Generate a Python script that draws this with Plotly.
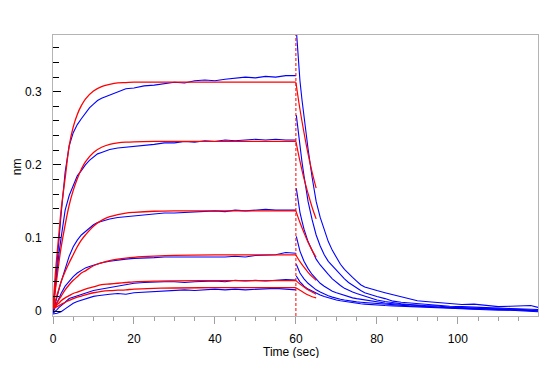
import plotly.graph_objects as go

# ---------------- data ----------------
# association phase, measured (blue)
T_A = [0, 0.5, 1, 1.5, 2, 3, 4, 5, 6, 7, 8, 9, 10, 11, 12, 14, 16, 18, 20, 22.5, 25,
       27.5, 30, 32.5, 35, 37.5, 40, 42.5, 45, 47.5, 50, 52.5, 55, 57.5, 60]
blue_assoc_1 = [0.000, 0.035, 0.070, 0.102, 0.132, 0.190, 0.226, 0.244, 0.255, 0.263, 0.271, 0.278,
                0.283, 0.288, 0.291, 0.295, 0.300, 0.304, 0.305, 0.308, 0.309, 0.311, 0.313, 0.312,
                0.315, 0.316, 0.315, 0.317, 0.318, 0.320, 0.319, 0.321, 0.320, 0.322, 0.322]
blue_assoc_2 = [0.000, 0.030, 0.055, 0.080, 0.100, 0.138, 0.158, 0.172, 0.185, 0.192, 0.200, 0.206,
                0.211, 0.215, 0.217, 0.221, 0.223, 0.224, 0.225, 0.227, 0.228, 0.230, 0.230, 0.232,
                0.231, 0.233, 0.232, 0.234, 0.233, 0.234, 0.235, 0.234, 0.235, 0.234, 0.234]
blue_assoc_3 = [-0.002, 0.010, 0.020, 0.030, 0.040, 0.058, 0.075, 0.088, 0.097, 0.104, 0.109, 0.114,
                0.118, 0.121, 0.123, 0.126, 0.128, 0.129, 0.130, 0.131, 0.133, 0.134, 0.134, 0.135,
                0.136, 0.136, 0.137, 0.136, 0.138, 0.137, 0.138, 0.139, 0.138, 0.138, 0.138]
blue_assoc_4 = [-0.002, 0.005, 0.012, 0.018, 0.024, 0.034, 0.041, 0.047, 0.052, 0.056, 0.059, 0.061,
                0.063, 0.065, 0.066, 0.068, 0.070, 0.071, 0.072, 0.072, 0.073, 0.074, 0.074, 0.073,
                0.074, 0.074, 0.073, 0.074, 0.075, 0.074, 0.076, 0.076, 0.077, 0.080, 0.079]
blue_assoc_5 = [-0.003, -0.001, 0.002, 0.005, 0.007, 0.012, 0.017, 0.019, 0.021, 0.023, 0.025, 0.027,
                0.028, 0.029, 0.030, 0.032, 0.033, 0.036, 0.038, 0.039, 0.040, 0.040, 0.040, 0.039,
                0.040, 0.041, 0.041, 0.040, 0.042, 0.041, 0.042, 0.041, 0.042, 0.043, 0.0425]
blue_assoc_6 = [-0.004, -0.004, -0.003, -0.002, -0.001, 0.003, 0.007, 0.0105, 0.013, 0.015, 0.017, 0.019,
                0.020, 0.021, 0.022, 0.023, 0.024, 0.023, 0.025, 0.026, 0.027, 0.027, 0.028, 0.029,
                0.028, 0.029, 0.030, 0.029, 0.030, 0.029, 0.030, 0.031, 0.031, 0.030, 0.029]

# dissociation phase, measured (blue)
T_D = [60.1, 60.5, 61, 61.5, 62, 63, 64, 65, 66, 67, 68, 69, 70, 71, 72, 73, 74, 75, 76, 77, 78,
       80, 82, 84, 86, 88, 90, 92, 95, 98, 101, 104, 107, 110, 113, 116, 118, 119.8]
blue_dissoc_1 = [0.385, 0.350, 0.315, 0.289, 0.265, 0.222, 0.183, 0.150, 0.128, 0.110, 0.095, 0.083,
                 0.073, 0.064, 0.057, 0.051, 0.046, 0.041, 0.036, 0.033, 0.031, 0.028, 0.025, 0.022,
                 0.019, 0.016, 0.014, 0.013, 0.012, 0.0105, 0.009, 0.0095, 0.008, 0.006, 0.0065,
                 0.007, 0.0075, 0.005]
blue_dissoc_2 = [0.268, 0.248, 0.224, 0.204, 0.185, 0.150, 0.125, 0.104, 0.089, 0.077, 0.068, 0.062,
                 0.055, 0.049, 0.044, 0.039, 0.035, 0.031, 0.028, 0.025, 0.023, 0.020, 0.017, 0.0135,
                 0.012, 0.011, 0.010, 0.009, 0.008, 0.0065, 0.006, 0.005, 0.0045, 0.004, 0.0035,
                 0.003, 0.0025, 0.002]
blue_dissoc_3 = [0.168, 0.150, 0.135, 0.123, 0.112, 0.095, 0.082, 0.071, 0.063, 0.056, 0.050, 0.044,
                 0.039, 0.035, 0.031, 0.028, 0.026, 0.024, 0.022, 0.020, 0.018, 0.015, 0.013, 0.011,
                 0.010, 0.009, 0.008, 0.0075, 0.007, 0.005, 0.0045, 0.004, 0.004, 0.003, 0.0025,
                 0.002, 0.001, 0.001]
blue_dissoc_4 = [0.102, 0.092, 0.082, 0.075, 0.068, 0.058, 0.050, 0.044, 0.038, 0.034, 0.030, 0.027,
                 0.025, 0.023, 0.021, 0.019, 0.018, 0.017, 0.016, 0.015, 0.014, 0.012, 0.011, 0.010,
                 0.009, 0.008, 0.007, 0.006, 0.0055, 0.005, 0.004, 0.0035, 0.003, 0.002, 0.002,
                 0.001, 0.001, 0.000]
blue_dissoc_5 = [0.064, 0.058, 0.052, 0.048, 0.044, 0.038, 0.033, 0.029, 0.026, 0.023, 0.021, 0.019,
                 0.017, 0.016, 0.015, 0.014, 0.013, 0.0125, 0.012, 0.0115, 0.011, 0.010, 0.009, 0.008,
                 0.0075, 0.007, 0.0065, 0.006, 0.005, 0.004, 0.004, 0.003, 0.003, 0.002, 0.0015,
                 0.001, 0.0005, 0.000]
blue_dissoc_6 = [0.048, 0.044, 0.040, 0.037, 0.034, 0.030, 0.027, 0.024, 0.022, 0.020, 0.018, 0.0165,
                 0.015, 0.014, 0.013, 0.012, 0.011, 0.0105, 0.010, 0.0095, 0.009, 0.008, 0.0075, 0.007,
                 0.0065, 0.006, 0.0055, 0.005, 0.0045, 0.004, 0.003, 0.0025, 0.002, 0.001, 0.001,
                 0.000, -0.0005, -0.001]

# fitted curves (red)
T_F = [0, 0.5, 1, 1.5, 2, 3, 4, 5, 6, 7, 8, 10, 12, 14, 16, 18, 20, 25, 30, 40, 50, 60]
fit_assoc_1 = [0.003, 0.045, 0.078, 0.108, 0.138, 0.182, 0.226, 0.252, 0.269, 0.281, 0.290, 0.301,
               0.307, 0.310, 0.312, 0.3125, 0.313, 0.313, 0.313, 0.313, 0.313, 0.313]
fit_assoc_2 = [0.003, 0.025, 0.047, 0.068, 0.087, 0.118, 0.145, 0.165, 0.181, 0.194, 0.204, 0.217,
               0.224, 0.228, 0.230, 0.231, 0.2315, 0.232, 0.232, 0.232, 0.232, 0.232]
fit_assoc_3 = [0.003, 0.012, 0.022, 0.031, 0.040, 0.054, 0.066, 0.077, 0.088, 0.097, 0.104, 0.116,
               0.124, 0.129, 0.132, 0.134, 0.135, 0.1365, 0.137, 0.137, 0.137, 0.137]
fit_assoc_4 = [0.003, 0.008, 0.012, 0.016, 0.020, 0.029, 0.036, 0.042, 0.047, 0.052, 0.055, 0.062,
               0.066, 0.069, 0.071, 0.0725, 0.0735, 0.075, 0.076, 0.0767, 0.0767, 0.0767]
fit_assoc_5 = [0.004, 0.006, 0.009, 0.011, 0.014, 0.018, 0.021, 0.024, 0.026, 0.028, 0.030, 0.033,
               0.036, 0.037, 0.038, 0.039, 0.040, 0.041, 0.0413, 0.0416, 0.0416, 0.0416]
fit_assoc_6 = [0.003, 0.0045, 0.006, 0.0075, 0.009, 0.012, 0.0145, 0.017, 0.019, 0.0205, 0.022, 0.025,
               0.027, 0.028, 0.0285, 0.029, 0.030, 0.031, 0.0315, 0.032, 0.032, 0.032]

T_FD = [60, 61, 62, 63, 64, 65]
fit_dissoc_1 = [0.313, 0.276, 0.244, 0.215, 0.190, 0.168]
fit_dissoc_2 = [0.232, 0.205, 0.181, 0.161, 0.142, 0.126]
fit_dissoc_3 = [0.137, 0.121, 0.107, 0.094, 0.083, 0.0735]
fit_dissoc_4 = [0.0767, 0.0675, 0.060, 0.053, 0.047, 0.042]
fit_dissoc_5 = [0.0416, 0.037, 0.033, 0.029, 0.026, 0.023]
fit_dissoc_6 = [0.032, 0.0285, 0.025, 0.022, 0.0195, 0.018]

SWITCH_TIME = 60
X_TICKS = [0, 20, 40, 60, 80, 100]
Y_TICKS = [0, 0.1, 0.2, 0.3]
Y_TICK_TEXT = ["0", "0.1", "0.2", "0.3"]

# ---------------- figure ----------------
BLUE = "#0000FF"
RED = "#FF0000"
FONT = "Liberation Sans, Arial, sans-serif"

fig = go.Figure()

blue_assoc = [blue_assoc_1, blue_assoc_2, blue_assoc_3, blue_assoc_4, blue_assoc_5, blue_assoc_6]
blue_dissoc = [blue_dissoc_1, blue_dissoc_2, blue_dissoc_3, blue_dissoc_4, blue_dissoc_5, blue_dissoc_6]
fit_assoc = [fit_assoc_1, fit_assoc_2, fit_assoc_3, fit_assoc_4, fit_assoc_5, fit_assoc_6]
fit_dissoc = [fit_dissoc_1, fit_dissoc_2, fit_dissoc_3, fit_dissoc_4, fit_dissoc_5, fit_dissoc_6]

for ys in blue_assoc:
    fig.add_trace(go.Scatter(x=T_A, y=ys, mode="lines", line=dict(color=BLUE, width=1.1),
                             showlegend=False, hoverinfo="skip"))
for ys in blue_dissoc:
    fig.add_trace(go.Scatter(x=T_D, y=ys, mode="lines", line=dict(color=BLUE, width=1.1),
                             showlegend=False, hoverinfo="skip"))
for ys in fit_assoc:
    fig.add_trace(go.Scatter(x=T_F, y=ys, mode="lines", line=dict(color=RED, width=1.3, shape="spline"),
                             showlegend=False, hoverinfo="skip"))
for ys in fit_dissoc:
    fig.add_trace(go.Scatter(x=T_FD, y=ys, mode="lines", line=dict(color=RED, width=1.2, shape="spline"),
                             showlegend=False, hoverinfo="skip"))

fig.add_shape(type="line", xref="x", yref="paper", x0=SWITCH_TIME, x1=SWITCH_TIME, y0=0, y1=1,
              line=dict(color=RED, width=1, dash="3px,2px"))

# the page body adds an 8px margin, so the figure is sized/margined to compensate
fig.update_layout(
    width=531, height=350,
    margin=dict(l=45, r=1, t=27, b=42, autoexpand=False),
    paper_bgcolor="white", plot_bgcolor="white",
    font=dict(family=FONT, size=12, color="#000000"),
    showlegend=False,
    xaxis=dict(range=[0, 119.8], tickvals=X_TICKS, ticks="outside", ticklen=7, tickcolor="#a0a0a0",
               tickwidth=1, showline=True, linecolor="#b4b4b4", linewidth=1, mirror=True,
               showgrid=False, zeroline=False, automargin=False,
               minor=dict(dtick=5, tick0=0, ticks="outside", ticklen=4, tickcolor="#a0a0a0", showgrid=False),
               tickfont=dict(size=12), ticklabelstandoff=5),
    yaxis=dict(range=[-0.0068, 0.3776], tickvals=Y_TICKS, ticktext=Y_TICK_TEXT, ticks="inside",
               ticklen=8, tickcolor="#000000", tickwidth=1, showline=True, linecolor="#b4b4b4",
               linewidth=1, mirror=True, showgrid=False, zeroline=False, automargin=False,
               minor=dict(dtick=0.02, tick0=0, ticks="inside", ticklen=6, tickcolor="#000000", showgrid=False),
               tickfont=dict(size=12), ticklabelstandoff=8),
    annotations=[
        dict(text="Time (sec)", xref="paper", yref="paper", x=0.49, y=-0.128, xanchor="center",
             yanchor="middle", showarrow=False, font=dict(size=12)),
        dict(text="nm", xref="paper", yref="paper", x=-0.074, y=0.53, xanchor="center",
             yanchor="middle", textangle=-90, showarrow=False, font=dict(size=12)),
    ],
)

fig.write_html("out.html")
